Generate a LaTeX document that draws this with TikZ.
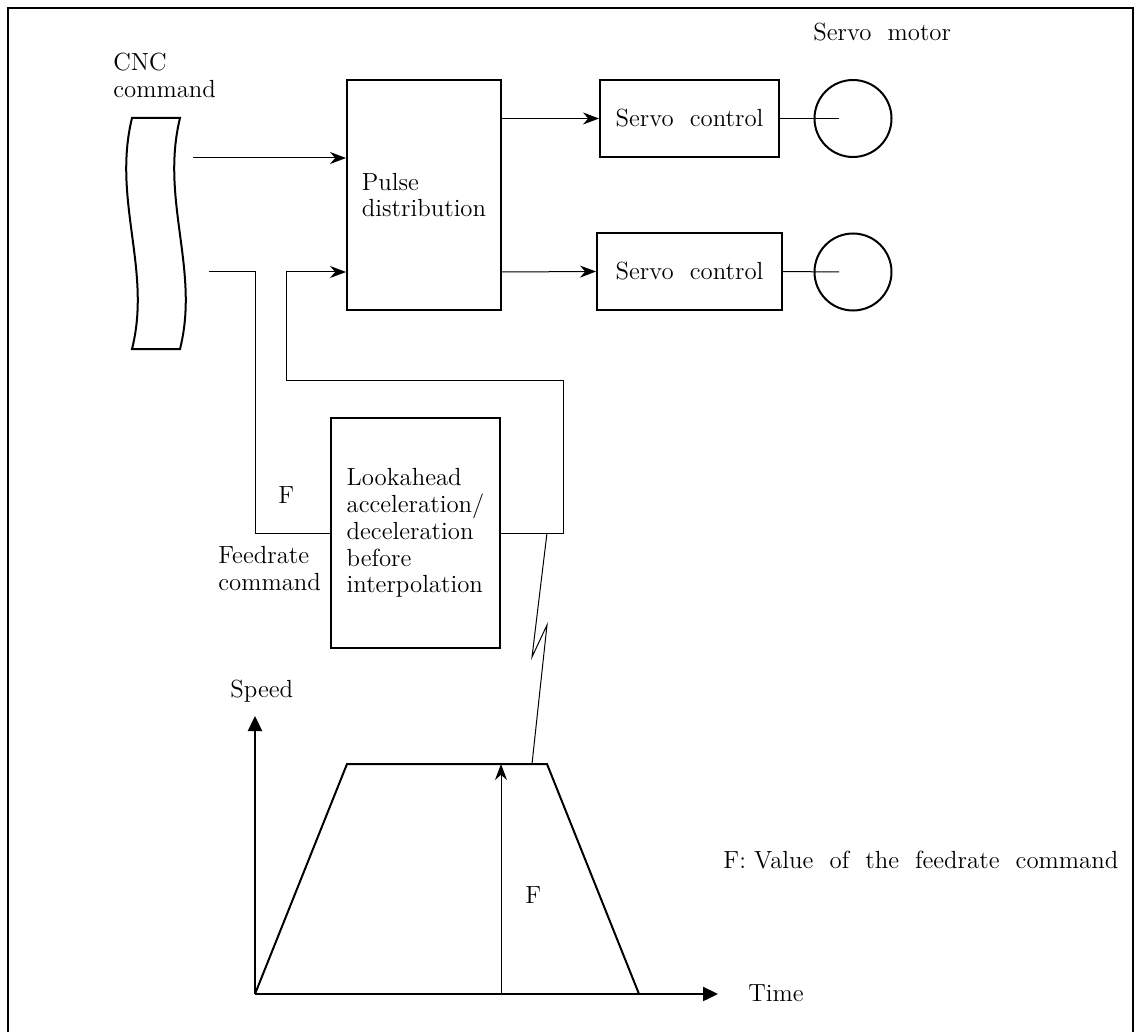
\documentclass[tikz,border=0pt]{standalone}
\usetikzlibrary{arrows.meta}
\begin{document}
\begin{tikzpicture}[x=0.5pt, y=-0.5pt,
	font=\fontsize{12.4}{13.4}\selectfont,
	bloc/.style={draw, line width=1pt, inner sep=0pt},
	fleche/.style={-{Stealth[length=8pt,width=6pt]}, line width=0.5pt},
	axe/.style={-{Triangle[length=7.5pt,width=7pt]}, line width=1.2pt},
	lien/.style={line width=0.5pt}]
	\useasboundingbox (0,0) rectangle (1135,1032);
	% Cadre
	\draw[line width=1pt] (8,1032) -- (8,8) -- (1133,8) -- (1133,1032);
	
	% Bande de programme
	\draw[line width=1pt] (132,118) -- (180,118)
		.. controls (160,200) and (200,270) .. (180,349) -- (132,349)
		.. controls (152,270) and (112,200) .. (132,118) -- cycle;
	\node[anchor=north west, align=left, inner sep=0pt] (cnc) at (113,53) {CNC\\command};
	
	% Blocs
	\node[bloc, minimum width=77pt, minimum height=115pt, align=left] (pulse) at (424,195) {Pulse\\distribution};
	\node[bloc, minimum width=89.5pt, minimum height=38.5pt] (servoA) at (689.5,118.5) {Servo\ \ control};
	\node[bloc, minimum width=92.5pt, minimum height=38.5pt] (servoB) at (689.5,271.5) {Servo\ \ control};
	\node[bloc, circle, minimum size=38.5pt] (moteurA) at (853,118.5) {};
	\node[bloc, circle, minimum size=38.5pt] (moteurB) at (853,272) {};
	\node[anchor=base west, inner sep=0pt] (moteur) at (813,41) {Servo\ \ motor};
	\node[bloc, minimum width=84.5pt, minimum height=115pt, align=left] (avance) at (415.5,533) {Lookahead\\acceleration/\\deceleration\\before\\interpolation};
	
	% Liaisons
	\coordinate (cnc1) at (193,158);
	\coordinate (cnc2) at (209,272);
	\coordinate (axeA) at (839,118.5);
	\coordinate (axeB) at (839,272);
	\draw[fleche] (cnc1) -- (cnc1 -| pulse.west);
	\draw[lien] (cnc2) -| (255,533) -- (avance.west);
	\draw[fleche] (avance.east) -- (563,533) |- (286,380) |- (pulse.west |- cnc2);
	\draw[fleche] (pulse.east |- servoA.west) -- (servoA.west);
	\draw[fleche] (pulse.east |- axeB) -- (servoB.west);
	\draw[lien] (servoA.east) -- (axeA);
	\draw[lien] (servoB.east) -- (axeB);
	\node[anchor=base west, inner sep=0pt] (F) at (278,503) {F};
	\node[anchor=north west, align=left, inner sep=0pt] (consigne) at (218,546) {Feedrate\\command};
	
	% Courbe de vitesse
	\coordinate (O) at (255,994);
	\coordinate (Fbas) at (501,994);
	\coordinate (Fhaut) at (501,764);
	\draw[axe] (O) -- (255,716);
	\draw[axe] (O) -- (718,994);
	\draw[line width=1pt] (O) -- (347,764) -- (547,764) -- (639,994);
	\draw[fleche] (Fbas) -- (Fhaut);
	\draw[lien] (547,533) -- (532,657) -- (547,625) -- (532,764);
	\node[anchor=base west, inner sep=0pt] (vitesse) at (230,697) {Speed};
	\node[anchor=base west, inner sep=0pt] (temps) at (748,1001) {Time};
	\node[anchor=base west, inner sep=0pt] (valF) at (525,903) {F};
	\node[anchor=base west, inner sep=0pt] (legende) at (723,868) {F: Value\ \ of\ \ the\ \ feedrate\ \ command};
\end{tikzpicture}
\end{document}
